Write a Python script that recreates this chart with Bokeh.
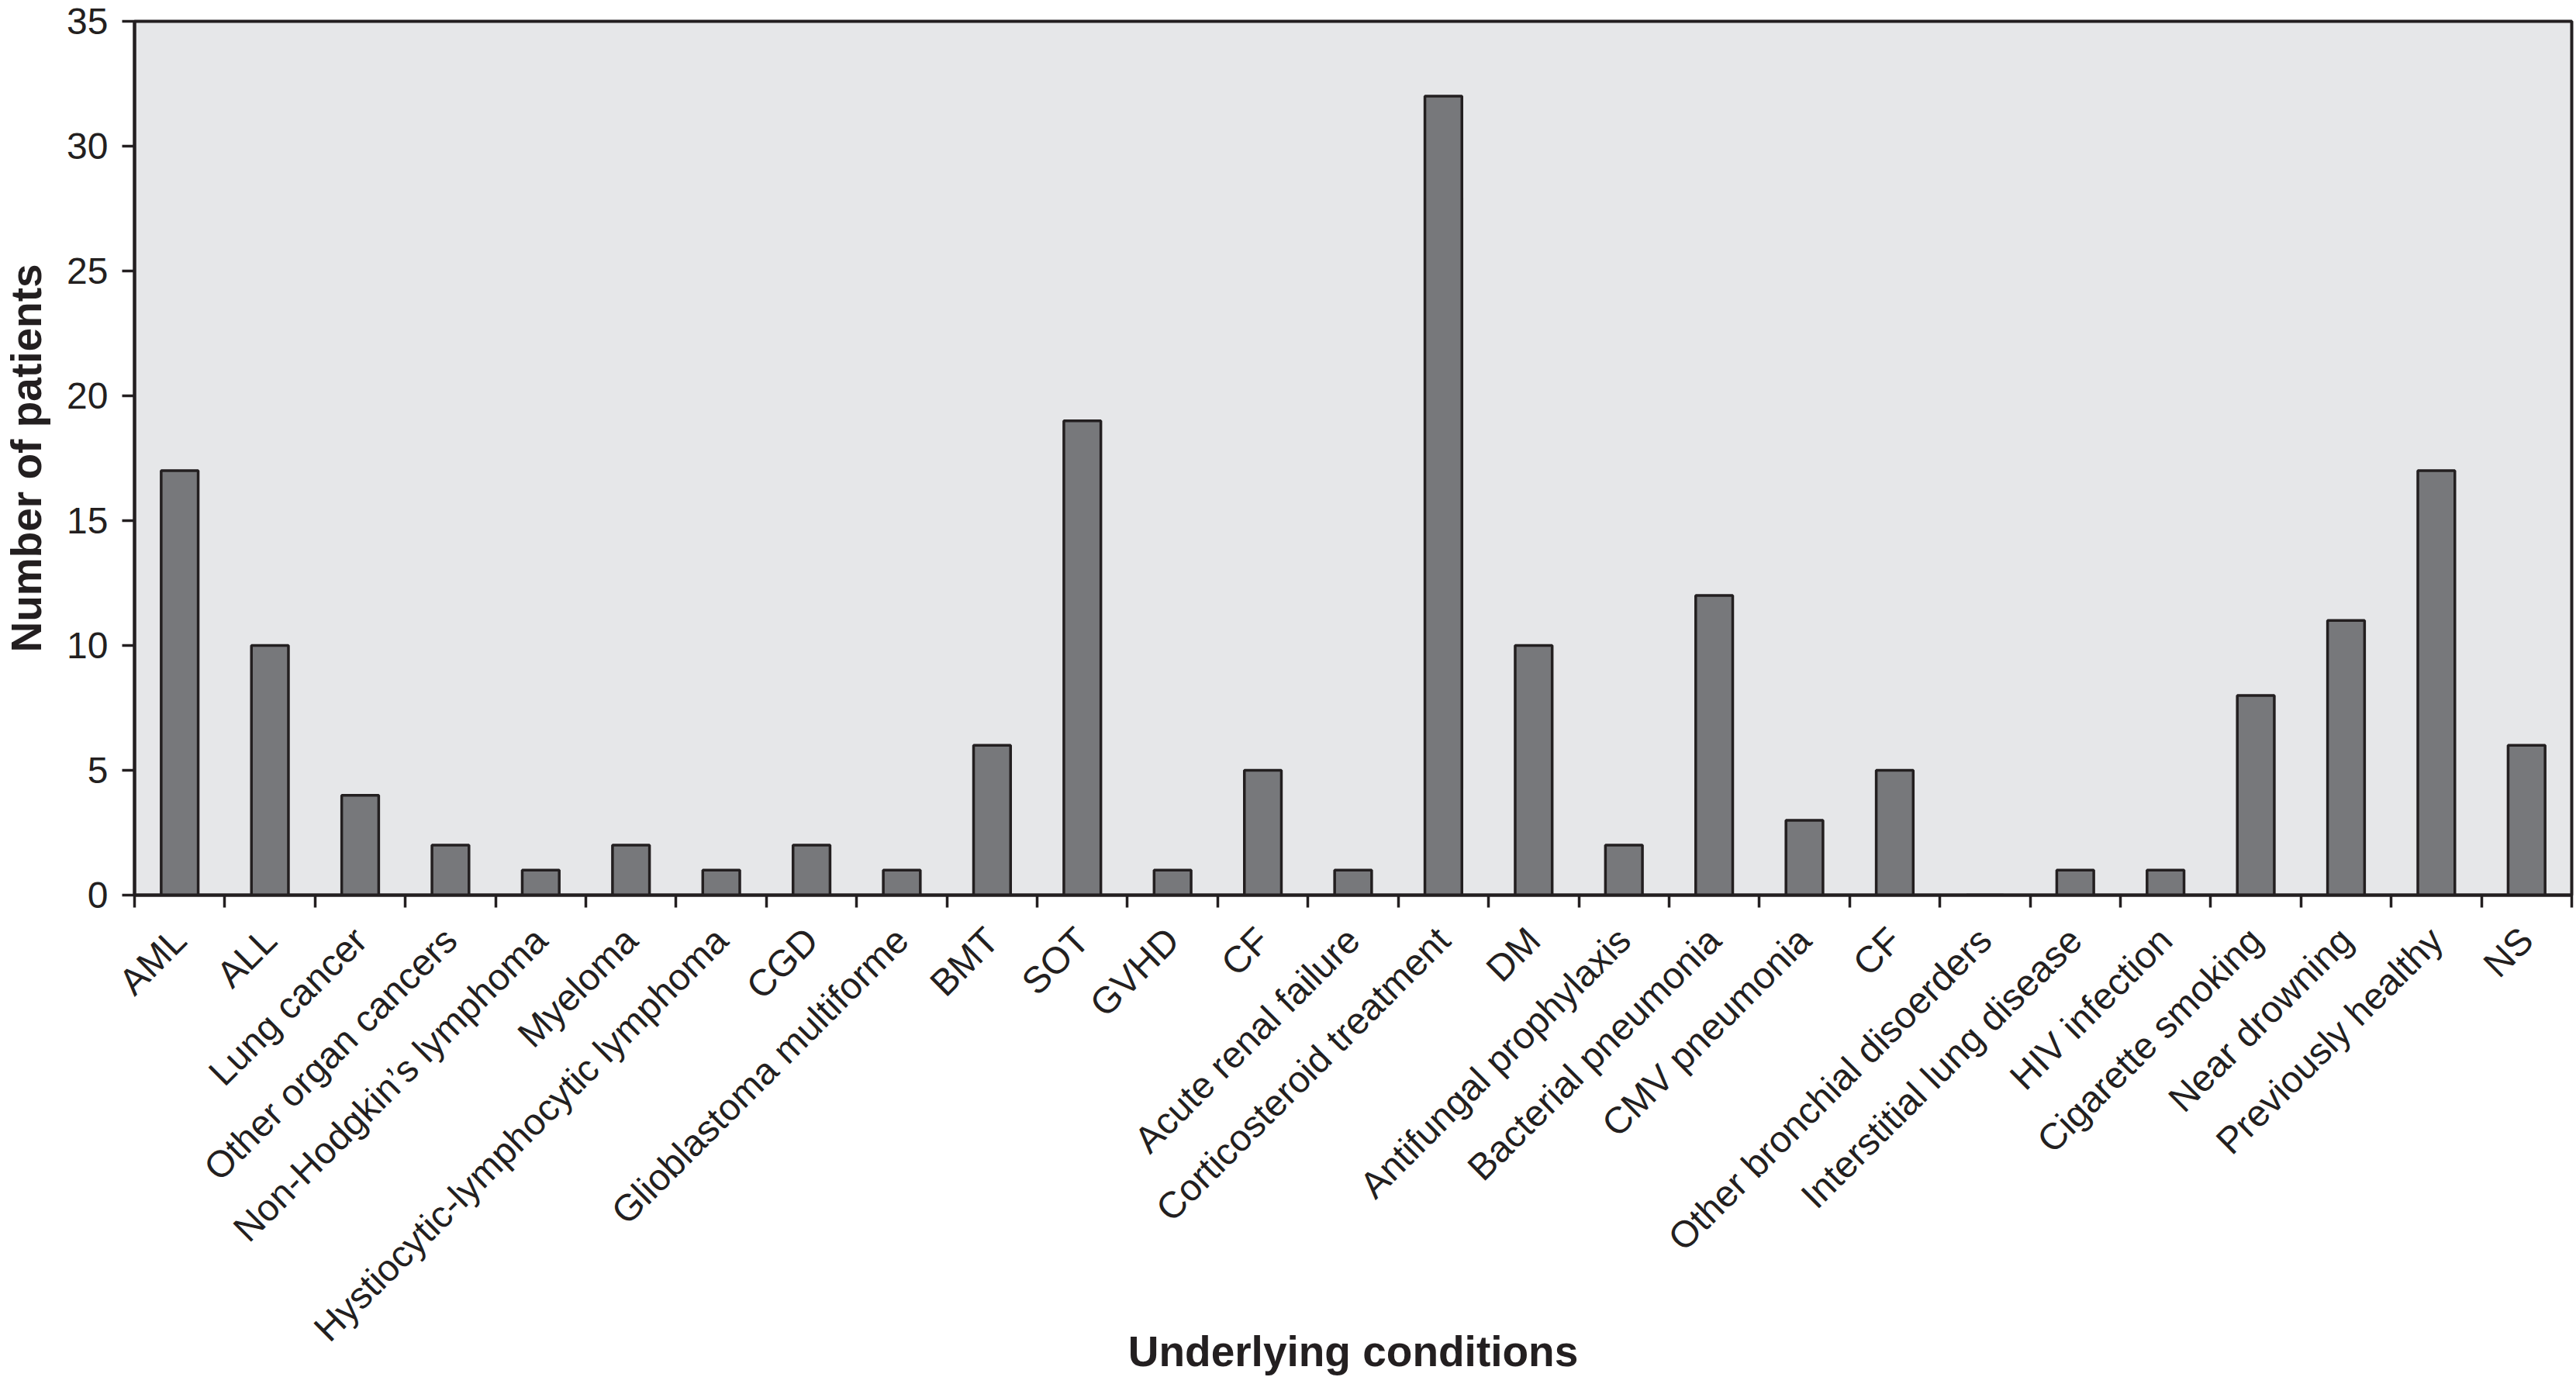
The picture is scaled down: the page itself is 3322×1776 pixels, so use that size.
import math
import numpy as np
from bokeh.plotting import figure
from bokeh.models import Range1d, FixedTicker
from bokeh.embed import file_html
from bokeh.resources import INLINE

categories = ["AML", "ALL", "Lung cancer", "Other organ cancers", "Non-Hodgkin\u2019s lymphoma",
              "Myeloma", "Hystiocytic-lymphocytic lymphoma", "CGD", "Glioblastoma multiforme",
              "BMT", "SOT", "GVHD", "CF", "Acute renal failure", "Corticosteroid treatment",
              "DM", "Antifungal prophylaxis", "Bacterial pneumonia", "CMV pneumonia", "CF",
              "Other bronchial disoerders", "Interstitial lung disease", "HIV infection",
              "Cigarette smoking", "Near drowning", "Previously healthy", "NS"]
patients = [17, 10, 4, 2, 1, 2, 1, 2, 1, 6, 19, 1, 5, 1, 32, 10, 2, 12, 3, 5, 0, 1, 1, 8, 11, 17, 6]
y_ticks = [0, 5, 10, 15, 20, 25, 30, 35]

DARK = "#231f20"
n = len(categories)
centers = [i + 0.5 for i in range(n)]
bounds = list(range(n + 1))
YMAX = 35

p = figure(width=3320, height=1776, x_range=Range1d(0, n), y_range=Range1d(0, YMAX),
           output_backend="svg", toolbar_location=None,
           min_border_left=168, min_border_right=4, min_border_top=27, min_border_bottom=618)
p.background_fill_color = "#e6e7e9"
p.border_fill_color = "white"
p.outline_line_color = DARK
p.outline_line_width = 4
p.xgrid.visible = False
p.ygrid.visible = False

p.vbar(x=centers, top=patients, width=0.41, bottom=0,
       fill_color="#77787b", line_color=DARK, line_width=3.5)

xa = p.xaxis[0]
xa.ticker = FixedTicker(ticks=centers, minor_ticks=bounds)
xa.major_label_overrides = {c: lab for c, lab in zip(centers, categories)}
xa.major_tick_line_color = None
xa.major_tick_out = 0
xa.major_tick_in = 0
xa.minor_tick_out = 16
xa.minor_tick_in = 0
xa.minor_tick_line_width = 3.5
xa.minor_tick_line_color = DARK
xa.axis_line_width = 4
xa.axis_line_color = DARK
xa.major_label_orientation = math.pi / 4
xa.major_label_text_font = "Liberation Sans"
xa.major_label_text_font_size = "48px"
xa.major_label_text_color = DARK
xa.major_label_standoff = 34
xa.axis_label = "Underlying conditions"
xa.axis_label_text_font = "Liberation Sans"
xa.axis_label_text_font_style = "bold"
xa.axis_label_text_font_size = "55px"
xa.axis_label_text_color = DARK
xa.axis_label_standoff = -50

ya = p.yaxis[0]
ya.ticker = FixedTicker(ticks=y_ticks, minor_ticks=[])
ya.major_tick_out = 16
ya.major_tick_in = 0
ya.major_tick_line_width = 3.5
ya.major_tick_line_color = DARK
ya.axis_line_width = 4
ya.axis_line_color = DARK
ya.major_label_text_font = "Liberation Sans"
ya.major_label_text_font_size = "48px"
ya.major_label_text_color = DARK
ya.major_label_standoff = 18
ya.axis_label = "Number of patients"
ya.axis_label_text_font = "Liberation Sans"
ya.axis_label_text_font_style = "bold"
ya.axis_label_text_font_size = "55px"
ya.axis_label_text_color = DARK
ya.axis_label_standoff = 18

open("out.html", "w").write(file_html(p, INLINE))
